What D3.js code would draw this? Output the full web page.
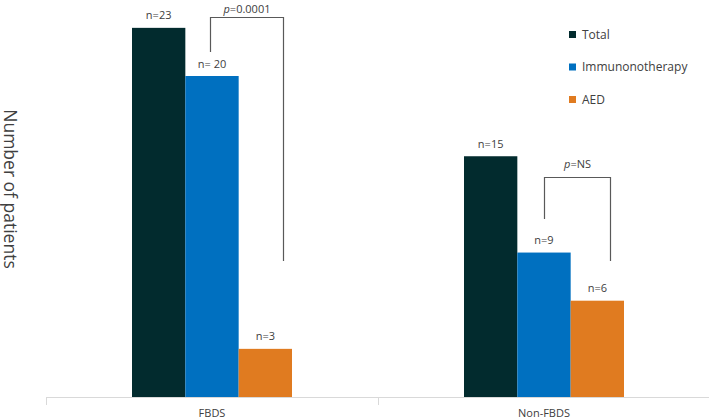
<!DOCTYPE html>
<html><head><meta charset="utf-8">
<script src="https://cdn.jsdelivr.net/npm/d3@7"></script>
<style>body{margin:0;background:#fff;}svg{display:block;font-family:"Open Sans","Liberation Sans",sans-serif;}</style>
</head><body>
<svg id="c" width="709" height="420"></svg>
<script>
const categories = ["FBDS", "Non-FBDS"];
const seriesNames = ["Total", "Immunonotherapy", "AED"];
const total = [23, 15];
const immuno = [20, 9];
const aed = [3, 6];
const valueLabels = [["n=23","n= 20","n=3"],["n=15","n=9","n=6"]];
const pLabels = [["p","=0.0001"],["p","=NS"]];
const colors = ["#022b2e", "#0070c0", "#e07b20"];

const svg = d3.select("#c");
const x0 = d3.scaleBand().domain(categories).range([46, 710]).paddingInner(0).paddingOuter(0);
const x1 = d3.scaleBand().domain(seriesNames).range([0, 160]).padding(0);
const groupOffset = (x0.bandwidth() - 160) / 2;
const y = d3.scaleLinear().domain([0, 25]).range([397, 397 - 25 * 16.05]);

const data = categories.map((c, i) => ({cat: c, vals: [total[i], immuno[i], aed[i]]}));

// axis
svg.append("line").attr("x1", 46).attr("x2", 709).attr("y1", 397.5).attr("y2", 397.5)
  .attr("stroke", "#d9d9d9").attr("stroke-width", 1);
const tickXs = [46, x0("Non-FBDS"), 708.5];
svg.selectAll(".tk").data(tickXs).join("line")
  .attr("x1", d => Math.round(d) + 0.5).attr("x2", d => Math.round(d) + 0.5)
  .attr("y1", 397).attr("y2", 405).attr("stroke", "#d9d9d9");
svg.selectAll(".cl").data(categories).join("text")
  .attr("x", d => x0(d) + x0.bandwidth() / 2).attr("y", 417)
  .attr("text-anchor", "middle").attr("font-size", 11).attr("fill", "#404040").text(d => d);

// bars
const g = svg.selectAll(".grp").data(data).join("g")
  .attr("transform", d => `translate(${x0(d.cat) + groupOffset},0)`);
g.selectAll("rect").data(d => d.vals.map((v, k) => ({v, k, s: seriesNames[k]}))).join("rect")
  .attr("x", d => x1(d.s)).attr("width", x1.bandwidth())
  .attr("y", d => y(d.v)).attr("height", d => y(0) - y(d.v))
  .attr("fill", d => colors[d.k]);
g.selectAll(".vl").data((d, i) => d.vals.map((v, k) => ({v, k, s: seriesNames[k], t: valueLabels[i][k]}))).join("text")
  .attr("x", d => x1(d.s) + x1.bandwidth() / 2).attr("y", d => y(d.v) - 8.5)
  .attr("text-anchor", "middle").attr("font-size", 11).attr("fill", "#404040").text(d => d.t);

// brackets (left leg above immunotherapy bar, right leg inside AED bar span)
const brackets = [
  {gi: 0, top: 17, leftBottom: 52, rightBottom: 261, lf: 0.47, rf: 0.84, ty: 12.5},
  {gi: 1, top: 177, leftBottom: 219, rightBottom: 261, lf: 0.5, rf: 0.73, ty: 167.5}
];
brackets.forEach(b => {
  const gx = x0(categories[b.gi]) + groupOffset;
  const xl = Math.round(gx + x1("Immunonotherapy") + x1.bandwidth() * b.lf) + 0.5;
  const xr = Math.round(gx + x1("AED") + x1.bandwidth() * b.rf) + 0.5;
  svg.append("path").attr("d", `M${xl},${b.leftBottom}V${b.top + 0.5}H${xr}V${b.rightBottom}`)
    .attr("fill", "none").attr("stroke", "#595959").attr("stroke-width", 1.2);
  const t = svg.append("text").attr("x", (xl + xr) / 2).attr("y", b.ty)
    .attr("text-anchor", "middle").attr("font-size", 11).attr("fill", "#404040");
  t.append("tspan").attr("font-style", "italic").text(pLabels[b.gi][0]);
  t.append("tspan").text(pLabels[b.gi][1]);
});

// legend
const leg = svg.selectAll(".lg").data(seriesNames).join("g")
  .attr("transform", (d, i) => `translate(569,${31 + i * 32.5})`);
leg.append("rect").attr("width", 7).attr("height", 7).attr("fill", (d, i) => colors[i]);
leg.append("text").attr("x", 13).attr("y", 7.5).attr("font-size", 12).attr("fill", "#404040").text(d => d);

// y title
svg.append("text").attr("transform", "translate(4,189) rotate(90)")
  .attr("text-anchor", "middle").attr("font-size", 17.5).attr("fill", "#404040").text("Number of patients");
</script>
</body></html>
